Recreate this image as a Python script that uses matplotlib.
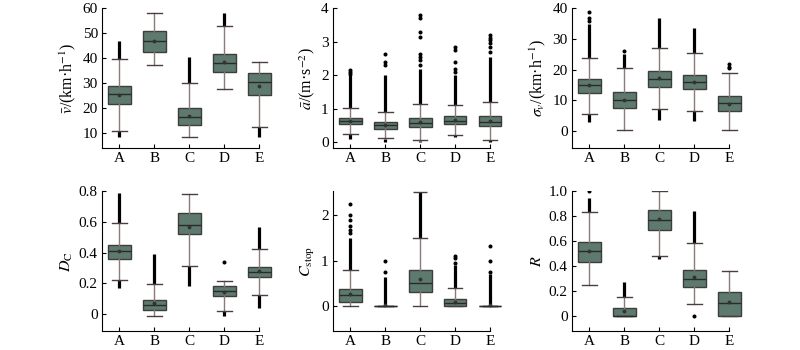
import matplotlib
matplotlib.use("Agg")
import matplotlib.pyplot as plt

plt.rcParams["font.family"] = ["Liberation Serif", "DejaVu Serif"]
plt.rcParams["mathtext.fontset"] = "stix"

groups = ["A", "B", "C", "D", "E"]

# box stats per group: [whislo, q1, median, q3, whishi]
speed_box = [[11.0, 21.8, 25.6, 29.0, 39.6],
             [37.3, 42.5, 46.8, 50.8, 58.2],
             [8.4, 13.1, 16.6, 20.0, 30.1],
             [27.5, 34.5, 38.0, 41.7, 53.0],
             [12.3, 25.3, 30.4, 34.0, 38.5]]
speed_mean = [25.3, 47.0, 17.0, 38.5, 29.0]
speed_dense = [[(39.6, 47.0), (8.5, 11.0)], [], [(30.1, 40.5)], [(53.0, 58.0)], [(8.5, 12.3)]]
speed_sparse = [[], [], [], [], []]

accel_box = [[0.23, 0.53, 0.62, 0.73, 1.03],
             [0.12, 0.40, 0.50, 0.60, 0.90],
             [0.05, 0.44, 0.57, 0.72, 1.13],
             [0.20, 0.53, 0.64, 0.77, 1.10],
             [0.07, 0.47, 0.61, 0.78, 1.20]]
accel_mean = [0.64, 0.52, 0.60, 0.66, 0.64]
accel_dense = [[(1.03, 2.0), (0.08, 0.23)], [(0.9, 2.0), (0.0, 0.1)], [(1.13, 2.2), (0.0, 0.04)],
               [(1.1, 2.0), (0.15, 0.2)], [(1.2, 2.55), (0.0, 0.06)]]
accel_sparse = [[2.05, 2.1, 2.15], [2.3, 2.4, 2.65], [2.3, 2.45, 2.55, 2.65, 3.15, 3.3, 3.7, 3.8],
                [2.1, 2.2, 2.4, 2.75, 2.85], [2.7, 2.85, 2.95, 3.05, 3.1, 3.2]]

sigma_box = [[5.5, 12.4, 14.9, 17.1, 23.9],
             [0.3, 7.5, 10.2, 12.6, 20.5],
             [7.1, 14.5, 17.0, 19.6, 27.2],
             [6.5, 13.6, 15.9, 18.3, 25.5],
             [0.3, 6.5, 9.2, 11.5, 19.0]]
sigma_mean = [15.0, 10.0, 17.2, 16.0, 8.7]
sigma_dense = [[(23.9, 35.0), (3.0, 5.5)], [(20.5, 25.0)], [(27.2, 36.8), (3.5, 7.1)],
               [(25.5, 33.5), (3.3, 6.5)], []]
sigma_sparse = [[36.0, 37.0, 38.7], [26.2], [], [], [20.5, 21.0, 21.8]]

dc_box = [[0.222, 0.362, 0.41, 0.453, 0.594],
          [-0.01, 0.026, 0.06, 0.093, 0.194],
          [0.315, 0.52, 0.582, 0.657, 0.782],
          [0.022, 0.118, 0.153, 0.183, 0.215],
          [0.125, 0.24, 0.275, 0.31, 0.425]]
dc_mean = [0.41, 0.07, 0.57, 0.145, 0.28]
dc_dense = [[(0.594, 0.79), (0.17, 0.222)], [(0.194, 0.39)], [(0.18, 0.315)],
            [(-0.01, 0.022)], [(0.425, 0.565), (0.04, 0.125)]]
dc_sparse = [[], [], [], [0.34], []]

cstop_box = [[0.0, 0.09, 0.25, 0.38, 0.8],
             [0.0, 0.0, 0.0, 0.0, 0.0],
             [0.0, 0.32, 0.52, 0.79, 1.5],
             [0.0, 0.0, 0.065, 0.16, 0.4],
             [0.0, 0.0, 0.0, 0.0, 0.0]]
cstop_mean = [0.27, 0.02, 0.6, 0.09, 0.02]
cstop_dense = [[(0.8, 1.5)], [(0.05, 0.65)], [(1.5, 2.5)], [(0.4, 0.9)], [(0.05, 0.7)]]
cstop_sparse = [[1.6, 1.68, 1.75, 1.9, 2.0, 2.25], [0.75, 1.0], [], [0.95, 1.05, 1.1], [0.75, 1.0, 1.33]]
cstop_maxcap = [None, None, 2.5, None, None]

r_box = [[0.25, 0.43, 0.518, 0.595, 0.838],
         [0.0, 0.0, 0.0, 0.066, 0.153],
         [0.48, 0.693, 0.773, 0.847, 1.0],
         [0.1, 0.23, 0.3, 0.37, 0.587],
         [0.0, 0.0, 0.105, 0.19, 0.365]]
r_mean = [0.52, 0.04, 0.775, 0.31, 0.11]
r_dense = [[(0.838, 0.95)], [(0.153, 0.27)], [(0.455, 0.48)], [(0.587, 0.84)], []]
r_sparse = [[1.0], [], [], [0.0], []]

no_cap = [None] * 5
panels = [
    (speed_box, speed_mean, speed_dense, speed_sparse, no_cap, r"$\bar{v}$/(km·h$^{-1}$)", (4, 60), [10, 20, 30, 40, 50, 60], None),
    (accel_box, accel_mean, accel_dense, accel_sparse, no_cap, r"$\bar{a}$/(m·s$^{-2}$)", (-0.18, 4), [0, 1, 2, 3, 4], None),
    (sigma_box, sigma_mean, sigma_dense, sigma_sparse, no_cap, r"$\sigma_v$/(km·h$^{-1}$)", (-5.5, 40), [0, 10, 20, 30, 40], None),
    (dc_box, dc_mean, dc_dense, dc_sparse, no_cap, r"$D_\mathrm{C}$", (-0.11, 0.8), [0, 0.2, 0.4, 0.6, 0.8], ["0", "0.2", "0.4", "0.6", "0.8"]),
    (cstop_box, cstop_mean, cstop_dense, cstop_sparse, cstop_maxcap, r"$C_\mathrm{stop}$", (-0.54, 2.52), [0, 1, 2], None),
    (r_box, r_mean, r_dense, r_sparse, no_cap, r"$R$", (-0.12, 1.0), [0, 0.2, 0.4, 0.6, 0.8, 1.0], ["0", "0.2", "0.4", "0.6", "0.8", "1.0"]),
]

face = "#5e7a6e"
edge = "#3d3d3d"
whisk = "#8a7a7a"
capcol = "#4a3e3e"

fig = plt.figure(figsize=(8, 3.5), dpi=100)
lefts = [0.1275, 0.416, 0.715]
bottoms = [0.577, 0.0543]

for i, (box, means, dense, sparse, maxcap, ylabel, ylim, yticks, yticklabels) in enumerate(panels):
    ax = fig.add_axes([lefts[i % 3], bottoms[i // 3], 0.214, 0.399])
    stats = []
    for k, g in enumerate(groups):
        lo, q1, med, q3, hi = box[k]
        stats.append(dict(label=g, whislo=lo, q1=q1, med=med, q3=q3, whishi=hi,
                          mean=means[k], fliers=sparse[k]))
    ax.bxp(stats, positions=range(1, 6), widths=0.65, capwidths=0.42,
           showmeans=True, patch_artist=True,
           boxprops=dict(facecolor=face, edgecolor=edge, linewidth=1.0),
           medianprops=dict(color="#2a2a2a", linewidth=1.0),
           whiskerprops=dict(color=whisk, linewidth=1.0),
           capprops=dict(color=capcol, linewidth=1.0),
           meanprops=dict(marker="o", markersize=1.8, markerfacecolor="#333333",
                          markeredgecolor="#333333"),
           flierprops=dict(marker="o", markersize=1.9, markerfacecolor="black",
                           markeredgecolor="black"))
    for k in range(5):
        for lo, hi in dense[k]:
            ax.vlines(k + 1, lo, hi, color="black", linewidth=2.3, zorder=1)
        if maxcap[k] is not None:
            ax.hlines(maxcap[k], k + 1 - 0.21, k + 1 + 0.21, color=capcol, linewidth=1.0, zorder=3)

    ax.set_xlim(0.5, 5.4)
    ax.set_ylim(*ylim)
    ax.set_yticks(yticks)
    if yticklabels:
        ax.set_yticklabels(yticklabels)
    ax.set_ylabel(ylabel, fontsize=11.5, labelpad=3)
    ax.spines["top"].set_visible(False)
    ax.spines["right"].set_visible(False)
    ax.spines["bottom"].set_bounds(0.5, 5)
    ax.tick_params(direction="in", length=3, width=0.8, labelsize=11, pad=3)

fig.savefig("out.png", dpi=100)
